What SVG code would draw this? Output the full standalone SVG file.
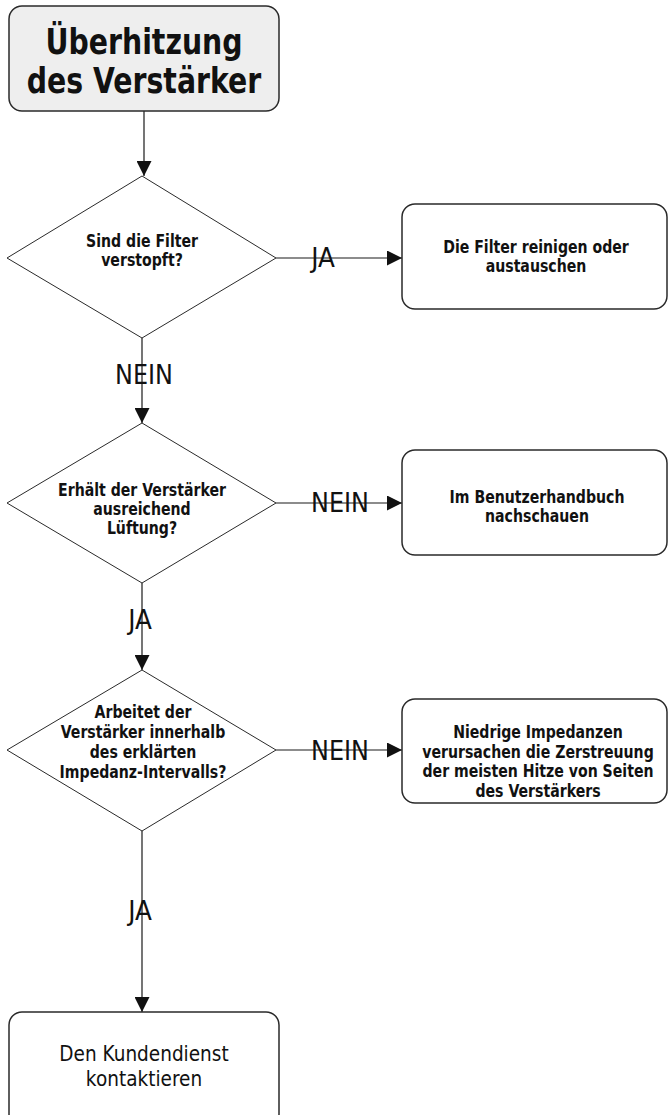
<svg xmlns="http://www.w3.org/2000/svg" width="668" height="1115" viewBox="0 0 668 1115">
<style>
.box{fill:#ffffff;stroke:#2a2a2a;stroke-width:1.5}
.start{fill:#eeeeee;stroke:#2a2a2a;stroke-width:1.5}
.dia{fill:#ffffff;stroke:#2a2a2a;stroke-width:1}
.con{fill:none;stroke:#1a1a1a;stroke-width:1.2}
.t{font-family:"DejaVu Sans",Verdana,sans-serif;text-anchor:middle;fill:#111111}
.title{font-size:35px;font-weight:bold}
.b{font-size:17px;font-weight:bold}
.lbl{font-size:26px}
.n{font-size:21px}
</style>
<defs>
<marker id="ah" markerUnits="userSpaceOnUse" markerWidth="15" markerHeight="15" refX="15" refY="7.5" orient="auto">
<path d="M0,0 L15,7.5 L0,15 z" fill="#111111"/>
</marker>
</defs>
<g id="connectors">
<line class="con" x1="144" y1="111" x2="144" y2="176" marker-end="url(#ah)"/>
<line class="con" x1="276" y1="258" x2="402" y2="258" marker-end="url(#ah)"/>
<line class="con" x1="142" y1="338" x2="142" y2="423" marker-end="url(#ah)"/>
<line class="con" x1="276" y1="503" x2="402" y2="503" marker-end="url(#ah)"/>
<line class="con" x1="142" y1="583" x2="142" y2="670" marker-end="url(#ah)"/>
<line class="con" x1="276" y1="750" x2="402" y2="750" marker-end="url(#ah)"/>
<line class="con" x1="142" y1="831" x2="142" y2="1012" marker-end="url(#ah)"/>
<text class="t lbl" transform="matrix(0.95 0 0 1 323 0)"><tspan x="0" y="267">JA</tspan></text>
<text class="t lbl" transform="matrix(0.92 0 0 1 144 0)"><tspan x="0" y="384">NEIN</tspan></text>
<text class="t lbl" transform="matrix(0.92 0 0 1 340 0)"><tspan x="0" y="512">NEIN</tspan></text>
<text class="t lbl" transform="matrix(0.95 0 0 1 140 0)"><tspan x="0" y="629">JA</tspan></text>
<text class="t lbl" transform="matrix(0.92 0 0 1 340 0)"><tspan x="0" y="760">NEIN</tspan></text>
<text class="t lbl" transform="matrix(0.95 0 0 1 140 0)"><tspan x="0" y="920">JA</tspan></text>
</g>
<g id="start">
<rect class="start" x="9" y="6" width="270" height="105" rx="13" ry="13"/>
<text class="t title" transform="matrix(0.81 0 0 1 144 0)"><tspan x="0" y="54">Überhitzung</tspan><tspan x="0" y="93">des Verstärker</tspan></text>
</g>
<g id="q1">
<polygon class="dia" points="142,176 276,258 142,338 7,258"/>
<text class="t b" transform="matrix(0.83 0 0 1 142 0)"><tspan x="0" y="247">Sind die Filter</tspan><tspan x="0" y="266">verstopft?</tspan></text>
</g>
<g id="a1">
<rect class="box" x="402" y="204" width="265" height="105" rx="13" ry="13"/>
<text class="t b" transform="matrix(0.83 0 0 1 536 0)"><tspan x="0" y="253">Die Filter reinigen oder</tspan><tspan x="0" y="272">austauschen</tspan></text>
</g>
<g id="q2">
<polygon class="dia" points="142,423 276,503 142,583 7,503"/>
<text class="t b" transform="matrix(0.83 0 0 1 142 0)"><tspan x="0" y="496">Erhält der Verstärker</tspan><tspan x="0" y="515">ausreichend</tspan><tspan x="0" y="534">Lüftung?</tspan></text>
</g>
<g id="a2">
<rect class="box" x="402" y="450" width="265" height="105" rx="13" ry="13"/>
<text class="t b" transform="matrix(0.83 0 0 1 537 0)"><tspan x="0" y="503">Im Benutzerhandbuch</tspan><tspan x="0" y="522">nachschauen</tspan></text>
</g>
<g id="q3">
<polygon class="dia" points="142,670 276,750 142,831 7,750"/>
<text class="t b" transform="matrix(0.83 0 0 1 143 0)"><tspan x="0" y="718">Arbeitet der</tspan><tspan x="0" y="738">Verstärker innerhalb</tspan><tspan x="0" y="758">des erklärten</tspan><tspan x="0" y="778">Impedanz-Intervalls?</tspan></text>
</g>
<g id="a3">
<rect class="box" x="402" y="699" width="265" height="104" rx="13" ry="13"/>
<text class="t b" transform="matrix(0.83 0 0 1 538 0)"><tspan x="0" y="738">Niedrige Impedanzen</tspan><tspan x="0" y="758">verursachen die Zerstreuung</tspan><tspan x="0" y="777">der meisten Hitze von Seiten</tspan><tspan x="0" y="797">des Verstärkers</tspan></text>
</g>
<g id="end">
<rect class="box" x="9" y="1012" width="270" height="115" rx="13" ry="13"/>
<text class="t n" transform="matrix(0.88 0 0 1 144 0)"><tspan x="0" y="1061">Den Kundendienst</tspan><tspan x="0" y="1086">kontaktieren</tspan></text>
</g>
</svg>
